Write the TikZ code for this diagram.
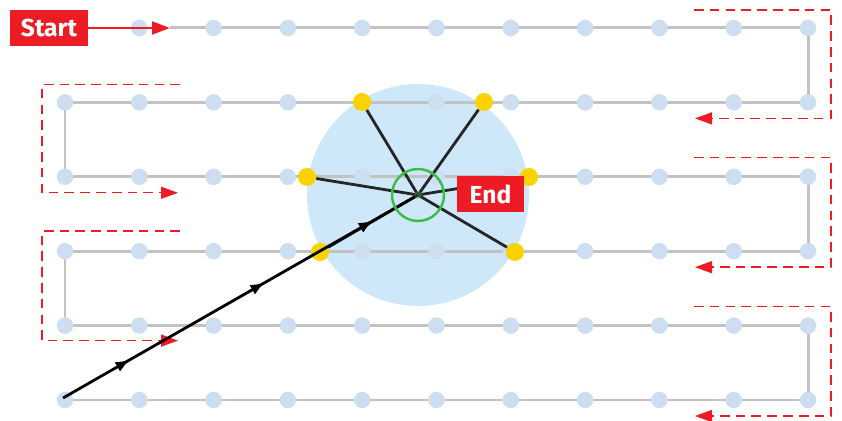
\documentclass[tikz,border=0pt]{standalone}
\usepackage{fontspec}
\setmainfont{Fira Sans}
\usetikzlibrary{arrows.meta,calc,decorations.markings}

\definecolor{zoneblue}{RGB}{206,232,249}
\definecolor{dotblue}{RGB}{205,222,240}
\definecolor{trackgrey}{RGB}{194,194,194}
\definecolor{signred}{RGB}{237,28,36}
\definecolor{hitgreen}{RGB}{58,190,72}
\definecolor{hityellow}{RGB}{250,210,0}

\begin{document}
\begin{tikzpicture}[
    x=0.02cm, y=-0.02cm,
    gridpt/.style={circle, fill=dotblue, inner sep=0pt, minimum size=0.33cm},
    found/.style={circle, fill=hityellow, inner sep=0pt, minimum size=0.36cm},
    sign/.style={rectangle, fill=signred, text=white, font=\bfseries\fontsize{14}{16}\selectfont, inner sep=0pt, minimum height=0.72cm},
    track/.style={trackgrey, line width=1.7pt, line join=round},
    turn/.style={signred, line width=0.8pt, dash pattern=on 5.5pt off 3.5pt, -{Triangle[length=0.34cm,width=0.24cm]}},
    lead/.style={signred, line width=1.1pt, -{Triangle[length=0.36cm,width=0.26cm]}},
    spoke/.style={black!85, line width=1.6pt},
    route/.style={black, line width=1.6pt, postaction={decorate},
        decoration={markings,
            mark=at position 0.19 with {\arrow{Latex[length=0.3cm,width=0.22cm]}},
            mark=at position 0.57 with {\arrow{Latex[length=0.3cm,width=0.22cm]}},
            mark=at position 0.875 with {\arrow{Latex[length=0.3cm,width=0.22cm]}}}}
]
\useasboundingbox (0,0) rectangle (842,421);

% Grid positions
\foreach \r in {1,...,6}
    \foreach \c in {1,...,11}
        \coordinate (p-\r-\c) at ({65+(\c-1)*74.3},{28+(\r-1)*74.4});
\coordinate (entry) at (170,28);
\coordinate (hub) at (418,195);
\coordinate (origin) at (63,398);

% Search zone
\node[circle, fill=zoneblue, inner sep=0pt, minimum size=4.44cm] (zone) at (hub) {};

% Sweep track
\draw[track] (entry) -- (p-1-11) -- (p-2-11) -- (p-2-1) -- (p-3-1) -- (p-3-11) -- (p-4-11)
    -- (p-4-1) -- (p-5-1) -- (p-5-11) -- (p-6-11) -- (p-6-1);

% Grid dots
\foreach \r in {1,...,6}
    \foreach \c in {1,...,11}
        \node[gridpt] (g-\r-\c) at (p-\r-\c) {};

% Turn markers
\draw[turn] ($(p-1-11)+(-114,-18)$) -| ($(p-2-11)+(23,16)$) -- ++(-136,0);
\draw[turn] ($(p-3-11)+(-114,-19)$) -| ($(p-4-11)+(23,16)$) -- ++(-136,0);
\draw[turn] ($(p-5-11)+(-114,-19)$) -| ($(p-6-11)+(23,16)$) -- ++(-136,0);
\draw[turn] ($(p-2-1)+(115,-18)$) -| ($(p-3-1)+(-23,16)$) -- ++(136,0);
\draw[turn] ($(p-4-1)+(115,-20)$) -| ($(p-5-1)+(-23,15)$) -- ++(136,0);

% Hits
\node[found] (f1) at (362,102) {};
\node[found] (f2) at (484,102) {};
\node[found] (f3) at (307,177) {};
\node[found] (f4) at (529,177) {};
\node[found] (f5) at (320,252) {};
\node[found] (f6) at (515,252) {};
\foreach \f in {1,...,6}
    \draw[spoke] (hub) -- (f\f);

% Direct route
\draw[route] (origin) -- (hub);

% Ring at the end point
\fill[hitgreen, opacity=0.35] (hub) circle[radius=4];
\node[circle, draw=hitgreen, line width=1.4pt, inner sep=0pt, minimum size=1.04cm] (ring) at (hub) {};

% Labels
\node[sign, minimum width=1.56cm] (start) at (49,28) {Start};
\draw[lead] (start) -- (entry);
\node[sign, minimum width=1.34cm] (end) at (490.5,194) {End};

\end{tikzpicture}
\end{document}
